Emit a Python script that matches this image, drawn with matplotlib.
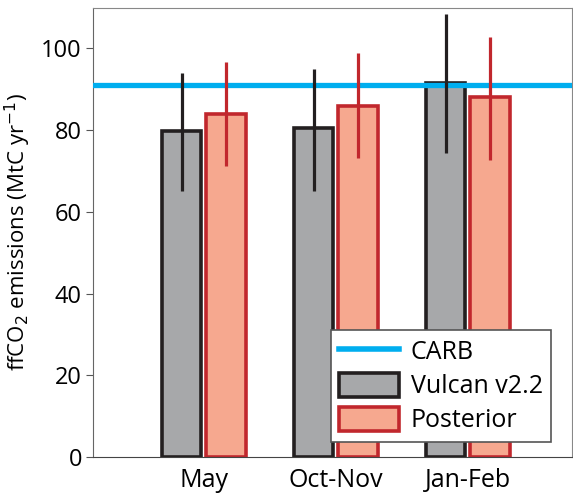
import numpy as np
import matplotlib
matplotlib.use("Agg")
import matplotlib.pyplot as plt
from matplotlib.patches import Patch
from matplotlib.lines import Line2D

plt.rcParams["font.family"] = ["Open Sans", "DejaVu Sans"]

periods = ["May", "Oct-Nov", "Jan-Feb"]
vulcan = [79.8, 80.5, 91.5]
vulcan_lo = [65.2, 65.0, 74.4]
vulcan_hi = [94.0, 95.0, 108.3]
posterior = [84.0, 86.0, 88.0]
post_lo = [71.3, 73.2, 72.8]
post_hi = [96.6, 98.8, 102.8]
carb = 91.0

GRAY = "#a7a8aa"
BLACK = "#231f20"
SALMON = "#f6a88f"
RED = "#c1272d"
CYAN = "#00aeef"

fig = plt.figure(figsize=(5.73, 5.01), dpi=100)
ax = fig.add_axes([93 / 573, 44 / 501, 479 / 573, 449.5 / 501])

x = np.arange(1, len(periods) + 1)
w = 0.30
off = 0.168

ax.bar(x - off, vulcan, w, color=GRAY, edgecolor=BLACK, linewidth=2.6, zorder=2)
ax.bar(x + off, posterior, w, color=SALMON, edgecolor=RED, linewidth=2.6, zorder=2)
ax.vlines(x - off, vulcan_lo, vulcan_hi, color=BLACK, lw=2.3, zorder=4)
ax.vlines(x + off, post_lo, post_hi, color=RED, lw=2.3, zorder=4)
ax.axhline(carb, color=CYAN, lw=3.8, zorder=3)

ax.set_xlim(0.16, 3.79)
ax.set_ylim(0, 110)
ax.set_xticks(x)
ax.set_xticklabels(periods, fontsize=18)
ax.set_yticks([0, 20, 40, 60, 80, 100])
ax.tick_params(axis="y", labelsize=17, direction="out", length=5, color="#555555", pad=3)
ax.tick_params(axis="x", length=0, pad=8)
ax.set_ylabel("ffCO$_2$ emissions (MtC yr$^{-1}$)", fontsize=16, labelpad=6)

for s in ["top", "right"]:
    ax.spines[s].set_color("#888888")
ax.spines["left"].set_color("#666666")
ax.spines["bottom"].set_color("#444444")

handles = [
    Line2D([0], [0], color=CYAN, lw=4),
    Patch(facecolor=GRAY, edgecolor=BLACK, linewidth=2.6),
    Patch(facecolor=SALMON, edgecolor=RED, linewidth=2.6),
]
leg = ax.legend(handles, ["CARB", "Vulcan v2.2", "Posterior"], loc="lower right",
                bbox_to_anchor=(0.957, 0.033), fontsize=18, fancybox=False,
                framealpha=1, edgecolor="#555555", handlelength=2.4,
                handleheight=1.1, handletextpad=0.45, labelspacing=0.3,
                borderpad=0.35, borderaxespad=0)
leg.get_frame().set_linewidth(1.2)

fig.savefig("out.png", dpi=100)
